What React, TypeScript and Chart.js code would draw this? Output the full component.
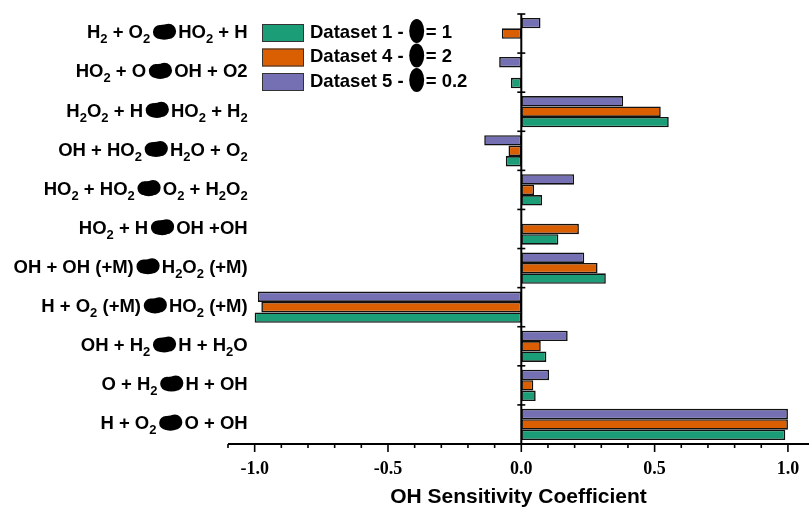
import React, { useEffect, useRef } from 'react';
import { Chart, registerables } from 'chart.js';

Chart.register(...registerables);

// Reactions, top to bottom. "_x" marks a subscript, "→" the reaction arrow.
const reactions = [
  'H_2 + O_2→HO_2 + H',
  'HO_2 + O→OH + O2',
  'H_2O_2 + H→HO_2 + H_2',
  'OH + HO_2→H_2O + O_2',
  'HO_2 + HO_2→O_2 + H_2O_2',
  'HO_2 + H→OH +OH',
  'OH + OH (+M)→H_2O_2 (+M)',
  'H + O_2 (+M)→HO_2 (+M)',
  'OH + H_2→H + H_2O',
  'O + H_2→H + OH',
  'H + O_2→O + OH',
];

// OH sensitivity coefficients per reaction
const dataset1 = [null, -0.039, 0.553, -0.058, 0.078, 0.139, 0.317, -1.0, 0.094, 0.054, 0.99];
const dataset4 = [-0.073, null, 0.523, -0.048, 0.048, 0.216, 0.286, -0.975, 0.073, 0.045, 1.0];
const dataset5 = [0.072, -0.083, 0.382, -0.139, 0.198, null, 0.236, -0.988, 0.174, 0.104, 1.0];

const legendLabels = ['Dataset 1 - φ= 1', 'Dataset 4 - φ= 2', 'Dataset 5 - φ= 0.2'];
const legendColors = ['#1b9e77', '#d95f02', '#7570b3'];

const xTicks = [-1, -0.5, 0, 0.5, 1];
const xTitle = 'OH Sensitivity Coefficient';
const xMin = -1.1;
const xMax = 1.079;

const SANS = '"Liberation Sans", Arial, Helvetica, sans-serif';
const SERIF = '"Liberation Serif", "Times New Roman", serif';

type Tok = { kind: 'text' | 'sub' | 'arrow' | 'phi'; s: string };

function tokenize(str: string): Tok[] {
  const out: Tok[] = [];
  let buf = '';
  const flush = () => {
    if (buf) out.push({ kind: 'text', s: buf });
    buf = '';
  };
  for (let i = 0; i < str.length; i++) {
    const c = str[i];
    if (c === '_' && i + 1 < str.length) {
      flush();
      out.push({ kind: 'sub', s: str[i + 1] });
      i++;
    } else if (c === '→') {
      flush();
      out.push({ kind: 'arrow', s: c });
    } else if (c === 'φ') {
      flush();
      out.push({ kind: 'phi', s: c });
    } else {
      buf += c;
    }
  }
  flush();
  return out;
}

const ARROW_ADV = 28;
const PHI_ADV = 17;

function drawArrowBlob(ctx: CanvasRenderingContext2D, x: number, cy: number) {
  const cx = x + ARROW_ADV / 2;
  ctx.beginPath();
  ctx.arc(cx - 4.3, cy + 0.3, 7.0, 0, Math.PI * 2);
  ctx.arc(cx + 4.3, cy - 0.4, 7.6, 0, Math.PI * 2);
  ctx.fill();
  ctx.beginPath();
  ctx.ellipse(cx, cy + 0.5, 9.5, 7.6, 0, 0, Math.PI * 2);
  ctx.fill();
}

function drawPhiBlob(ctx: CanvasRenderingContext2D, x: number, cy: number) {
  const cx = x + 8;
  ctx.beginPath();
  ctx.ellipse(cx, cy, 7.5, 12, 0, 0, Math.PI * 2);
  ctx.fill();
}

function drawRich(
  ctx: CanvasRenderingContext2D,
  str: string,
  x: number,
  baseline: number,
  size: number,
  subSize: number,
  alignRight: boolean
) {
  const toks = tokenize(str);
  const main = `bold ${size}px ${SANS}`;
  const sub = `bold ${subSize}px ${SANS}`;
  const widths = toks.map((t) => {
    if (t.kind === 'arrow') return ARROW_ADV;
    if (t.kind === 'phi') return PHI_ADV;
    ctx.font = t.kind === 'sub' ? sub : main;
    return ctx.measureText(t.s).width;
  });
  const total = widths.reduce((a, b) => a + b, 0);
  let cx = alignRight ? x - total : x;
  ctx.fillStyle = '#000';
  ctx.textBaseline = 'alphabetic';
  ctx.textAlign = 'left';
  const mid = baseline - size * 0.36;
  toks.forEach((t, i) => {
    if (t.kind === 'arrow') drawArrowBlob(ctx, cx, mid);
    else if (t.kind === 'phi') drawPhiBlob(ctx, cx, mid);
    else {
      ctx.font = t.kind === 'sub' ? sub : main;
      ctx.fillText(t.s, cx, t.kind === 'sub' ? baseline + 5 : baseline);
    }
    cx += widths[i];
  });
}

const decorPlugin = {
  id: 'decor',
  afterDatasetsDraw(chart: any) {
    const { ctx, chartArea } = chart;
    const xs = chart.scales.x;
    const ys = chart.scales.y;
    ctx.save();
    ctx.strokeStyle = '#000';
    ctx.fillStyle = '#000';

    // vertical axis at zero with crossing ticks between categories
    const x0 = xs.getPixelForValue(0);
    ctx.lineWidth = 2;
    ctx.beginPath();
    ctx.moveTo(x0, chartArea.top);
    ctx.lineTo(x0, chartArea.bottom);
    ctx.stroke();
    const n = reactions.length;
    const step = (chartArea.bottom - chartArea.top) / n;
    ctx.lineWidth = 1.6;
    for (let i = 0; i < n; i++) {
      const y = chartArea.top + i * step;
      ctx.beginPath();
      ctx.moveTo(x0 - 4, y);
      ctx.lineTo(x0 + 4, y);
      ctx.stroke();
    }

    // horizontal axis with major and minor ticks
    const yb = chartArea.bottom;
    ctx.lineWidth = 2;
    ctx.beginPath();
    ctx.moveTo(chartArea.left, yb);
    ctx.lineTo(chartArea.right, yb);
    ctx.stroke();
    ctx.lineWidth = 1.6;
    for (let k = -11; k <= 10; k++) {
      const v = k / 10;
      const px = xs.getPixelForValue(v);
      const len = k % 5 === 0 ? 8 : 4;
      ctx.beginPath();
      ctx.moveTo(px, yb);
      ctx.lineTo(px, yb + len);
      ctx.stroke();
    }

    // tick labels and axis title
    ctx.fillStyle = '#000';
    ctx.textAlign = 'center';
    ctx.textBaseline = 'alphabetic';
    ctx.font = `bold 18px ${SERIF}`;
    xTicks.forEach((v) => {
      ctx.fillText(v.toFixed(1), xs.getPixelForValue(v), yb + 30);
    });
    ctx.font = `bold 21px ${SANS}`;
    ctx.fillText(xTitle, (chartArea.left + chartArea.right) / 2, yb + 59);

    // reaction labels
    const labelRight = xs.getPixelForValue(-1) - 7;
    reactions.forEach((r, i) => {
      const yc = ys.getPixelForValue(i);
      drawRich(ctx, r, labelRight, yc + 4.8, 18.5, 13, true);
    });

    // legend
    const lx = 262;
    const ly = 24;
    legendLabels.forEach((lab, i) => {
      const y = ly + i * 24.5;
      ctx.fillStyle = legendColors[i];
      ctx.fillRect(lx, y, 42, 18);
      ctx.lineWidth = 1;
      ctx.strokeStyle = '#333';
      ctx.strokeRect(lx + 0.5, y + 0.5, 41, 17);
      drawRich(ctx, lab, lx + 48, y + 9 + 4.7, 18.5, 13, false);
    });
    ctx.restore();
  },
};

export default function App() {
  const ref = useRef<HTMLCanvasElement | null>(null);

  useEffect(() => {
    if (!ref.current) return;
    const bar = (label: string, data: (number | null)[], color: string) => ({
      label,
      data,
      backgroundColor: color,
      borderColor: '#111',
      borderWidth: 1.6,
      borderSkipped: false,
      categoryPercentage: 0.8,
      barPercentage: 1.0,
    });
    const chart = new Chart(ref.current, {
      type: 'bar',
      data: {
        labels: reactions,
        datasets: [
          bar('Dataset 5', dataset5, legendColors[2]),
          bar('Dataset 4', dataset4, legendColors[1]),
          bar('Dataset 1', dataset1, legendColors[0]),
        ],
      },
      options: {
        indexAxis: 'y',
        responsive: false,
        animation: false,
        layout: { padding: { left: 228, right: 0, top: 14, bottom: 70 } },
        plugins: { legend: { display: false }, tooltip: { enabled: false } },
        scales: {
          x: { type: 'linear', min: xMin, max: xMax, display: false },
          y: { type: 'category', display: false, offset: true },
        },
      } as any,
      plugins: [decorPlugin],
    });
    return () => chart.destroy();
  }, []);

  return (
    <div style={{ position: 'absolute', left: 0, top: 0, width: 809, height: 514, background: '#fff' }}>
      <canvas ref={ref} width={809} height={514} />
    </div>
  );
}
